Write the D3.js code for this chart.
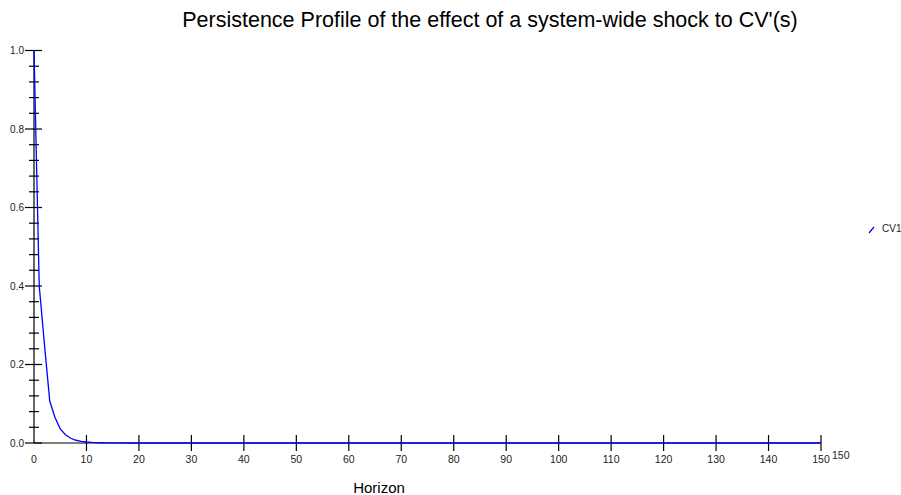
<!DOCTYPE html>
<html><head><meta charset="utf-8">
<script src="https://cdn.jsdelivr.net/npm/d3@7"></script>
<style>body{margin:0;background:#fff;} svg{display:block;font-family:"Liberation Sans",Arial,sans-serif;}</style>
</head><body>
<script>
const title = "Persistence Profile of the effect of a system-wide shock to CV'(s)";
const xLabel = "Horizon";
const seriesName = "CV1";
const horizons = [0,1,2,3,4,5,6,7,8,9,10,11,12,13,14,15,16,18,20,25,30,40,50,60,70,80,90,100,110,120,130,140,150];
const values =   [1.0,0.40,0.25,0.107,0.065,0.036,0.021,0.012,0.007,0.004,0.0025,0.0015,0.001,0.0006,0.0004,0.0002,0.0001,0,0,0,0,0,0,0,0,0,0,0,0,0,0,0,0];
const xTicks = [0,10,20,30,40,50,60,70,80,90,100,110,120,130,140,150];
const yMajor = [0.0,0.2,0.4,0.6,0.8,1.0];
const yMinor = [0.04,0.08,0.12,0.16,0.24,0.28,0.32,0.36,0.44,0.48,0.52,0.56,0.64,0.68,0.72,0.76,0.84,0.88,0.92,0.96];

const W=901,H=495;
const svg=d3.select("body").append("svg").attr("width",W).attr("height",H);
const x=d3.scaleLinear().domain([0,150]).range([34,821]);
const y=d3.scaleLinear().domain([0,1]).range([443,50.5]);

svg.append("text").attr("x",490).attr("y",27).attr("text-anchor","middle")
  .attr("font-size",21.5).attr("fill","#000").text(title);

// y axis
svg.append("line").attr("x1",x(0)).attr("x2",x(0)).attr("y1",y(0)).attr("y2",y(1)).attr("stroke","#000").attr("stroke-width",1.2);
svg.selectAll(".ymaj").data(yMajor).join("line")
  .attr("x1",x(0)-9).attr("x2",x(0)+8).attr("y1",d=>y(d)).attr("y2",d=>y(d)).attr("stroke","#000").attr("stroke-width",1.2);
svg.selectAll(".ymin").data(yMinor).join("line")
  .attr("x1",x(0)-5).attr("x2",x(0)+5).attr("y1",d=>y(d)).attr("y2",d=>y(d)).attr("stroke","#000").attr("stroke-width",1.2);
svg.selectAll(".ylab").data(yMajor).join("text")
  .attr("x",24).attr("y",d=>y(d)+3.5).attr("text-anchor","end").attr("font-size",10).attr("fill","#222")
  .text(d=>d3.format(".1f")(d));

// x axis
svg.append("line").attr("x1",x(0)).attr("x2",x(150)).attr("y1",y(0)).attr("y2",y(0)).attr("stroke","#000").attr("stroke-width",1.2);
svg.selectAll(".xt").data(xTicks.filter(d=>d>0)).join("line")
  .attr("x1",d=>x(d)).attr("x2",d=>x(d)).attr("y1",y(0)-8).attr("y2",y(0)+8).attr("stroke","#000").attr("stroke-width",1.2);
svg.selectAll(".xlab").data(xTicks).join("text")
  .attr("x",d=>x(d)).attr("y",463).attr("text-anchor","middle").attr("font-size",10.5).attr("fill","#222").text(d=>d);
svg.append("text").attr("x",x(150)+11).attr("y",459).attr("font-size",10.5).attr("fill","#222").text(xTicks[xTicks.length-1]);

svg.append("text").attr("x",379).attr("y",493).attr("text-anchor","middle").attr("font-size",15).attr("fill","#000").text(xLabel);

// series
const line=d3.line().x((d,i)=>x(horizons[i])).y(d=>y(d));
svg.append("path").datum(values).attr("d",line).attr("fill","none").attr("stroke","#0000ff").attr("stroke-width",1.3);

// legend
svg.append("line").attr("x1",869).attr("x2",874).attr("y1",233).attr("y2",227).attr("stroke","#0000ff").attr("stroke-width",1.2);
svg.append("text").attr("x",882).attr("y",232).attr("font-size",10).attr("fill","#222").text(seriesName);
</script>
</body></html>
